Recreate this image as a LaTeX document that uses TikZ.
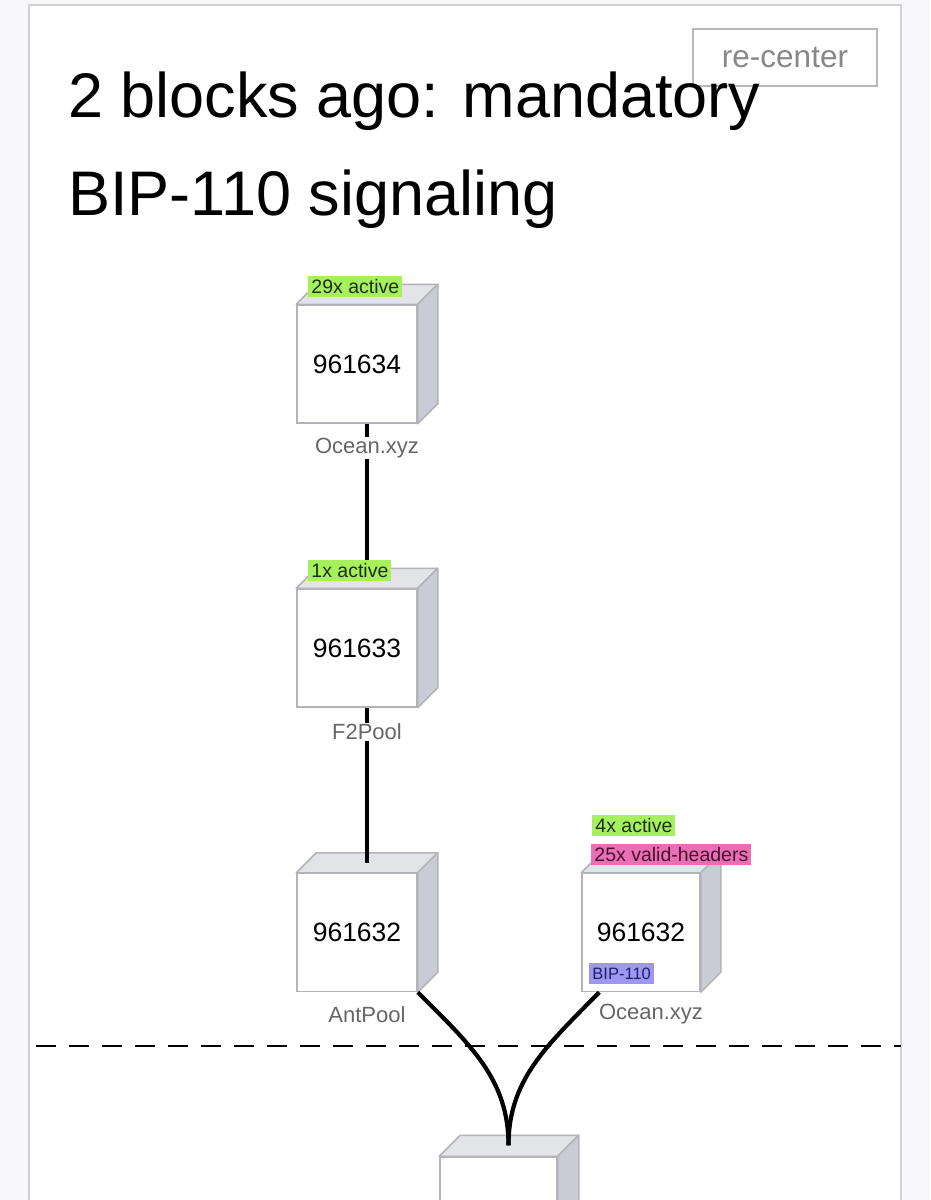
\documentclass[tikz,border=0pt]{standalone}
\usepackage{fontspec}
\setmainfont{Liberation Sans}
\usetikzlibrary{calc}
\definecolor{bgc}{HTML}{F8F8FA}
\definecolor{framec}{HTML}{D2D2D6}
\definecolor{edgec}{HTML}{B4B4B8}
\definecolor{topc}{HTML}{E3E4E8}
\definecolor{sidec}{HTML}{C9CCD4}
\definecolor{namec}{HTML}{666666}
\definecolor{btnc}{HTML}{B8B8B8}
\definecolor{btntext}{HTML}{888888}
\definecolor{tgreen}{HTML}{A6F05E}
\definecolor{tpink}{HTML}{E86FB4}
\definecolor{tpurple}{HTML}{9C98F2}
\definecolor{tgreentext}{HTML}{1E2E12}
\definecolor{tpinktext}{HTML}{4A1030}
\definecolor{tpurpletext}{HTML}{20206A}
\newcommand\cubefaces[2]{%
  \draw[edgec, line width=1.5pt, fill=topc, line join=round]
    (#1.north west) -- ++(#2,-#2) -- ($(#1.north east)+(#2,-#2)$) -- (#1.north east) -- cycle;
  \draw[edgec, line width=1.5pt, fill=sidec, line join=round]
    (#1.north east) -- ++(#2,-#2) -- ($(#1.south east)+(#2,-#2)$) -- (#1.south east) -- cycle;}
\begin{document}
\begin{tikzpicture}[x=1pt,y=-1pt,
  front/.style={draw=edgec, line width=1.5pt, fill=white, minimum width=120pt,
    minimum height=118pt, inner sep=0pt, font=\fontsize{26.5}{30}\selectfont},
  poolname/.style={fill=white, text=namec, inner sep=1pt, font=\fontsize{22}{24}\selectfont},
  tag/.style={anchor=south west, inner xsep=3pt, inner ysep=0pt, minimum height=21pt,
    font=\fontsize{19.5}{21}\selectfont},
  conn/.style={line width=4.2pt, black},
  title/.style={anchor=base west, inner sep=0pt, font=\fontsize{63}{70}\selectfont}]
\useasboundingbox (0,0) rectangle (930,1200);
\fill[bgc] (0,0) rectangle (930,1200);
\draw[framec, fill=white, line width=1.5pt] (29,5) rectangle (901,1220);

% re-center button and title
\node[draw=btnc, line width=2pt, fill=white, minimum width=184pt, minimum height=57pt,
  text=btntext, font=\fontsize{31.5}{33}\selectfont] (btn) at (785,57.5) {re-center};
\node[title] (title1) at (68,117) {2 blocks ago: mandatory};
\node[title] (title2) at (68,215) {BIP-110 signaling};

% dashed separator
\coordinate (dl) at (36,1046);
\coordinate (dr) at (901,1046);
\draw[line width=2pt, dash pattern=on 20pt off 13pt] (dl) -- (dr);

% blocks
\node[front] (b1) at (357,364) {961634};
\cubefaces{b1}{20}
\node[front] (b2) at (357,648) {961633};
\cubefaces{b2}{20}
\node[front] (b3) at (357,932.5) {961632};
\cubefaces{b3}{20}
\node[front, minimum width=118pt] (b4) at (641,932.5) {961632};
\cubefaces{b4}{20}
\node[front, minimum width=117pt] (b5) at (498.5,1216) {};
\cubefaces{b5}{21}

% connectors
\draw[conn] ($(b1.south)+(10,0)$) -- ($(b2.north)+(10,-10)$);
\draw[conn] ($(b2.south)+(10,0)$) -- ($(b3.north)+(10,-10)$);
\draw[conn] (b3.south east) .. controls ($(b3.south east)+(53,53)$) and ($(b5.north)+(10,-77)$) .. ($(b5.north)+(10,-11)$);
\draw[conn] ($(b4.south west)+(18,0)$) .. controls ($(b4.south west)+(-34,53)$) and ($(b5.north)+(10,-77)$) .. ($(b5.north)+(10,-11)$);

% pool names
\node[poolname] (n1) at ($(b1.south)+(10,24)$) {Ocean.xyz};
\node[poolname] (n2) at ($(b2.south)+(10,24)$) {F2Pool};
\node[poolname] (n3) at ($(b3.south)+(10,22)$) {AntPool};
\node[poolname] (n4) at ($(b4.south)+(10,22)$) {Ocean.xyz};

% tags
\node[tag, fill=tgreen, text=tgreentext] (t1) at ($(b1.north west)+(12,-7)$) {29x active};
\node[tag, fill=tgreen, text=tgreentext] (t2) at ($(b2.north west)+(12,-7)$) {1x active};
\node[tag, fill=tpink, text=tpinktext] (t4p) at ($(b4.north west)+(10,-8)$) {25x valid-headers};
\node[tag, fill=tgreen, text=tgreentext] (t4g) at ($(t4p.north west)+(1,-7)$) {4x active};
\node[tag, fill=tpurple, text=tpurpletext, font=\fontsize{16.5}{18}\selectfont] (t4b) at ($(b4.south west)+(8,-8)$) {BIP-110};
\end{tikzpicture}
\end{document}
